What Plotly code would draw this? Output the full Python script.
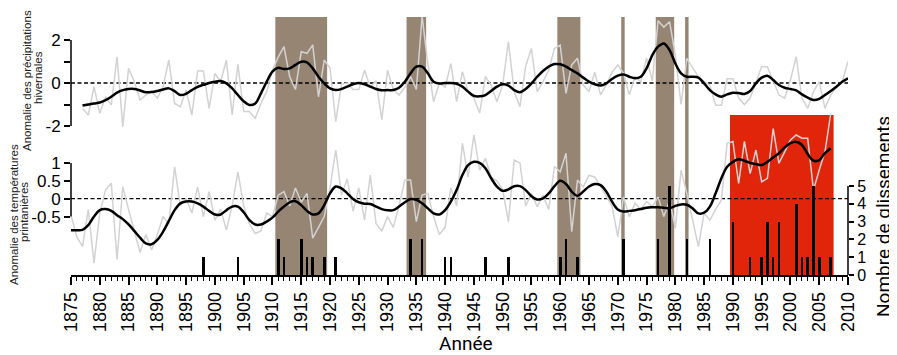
import plotly.graph_objects as go

# ---------------- data ----------------
years_precip = list(range(1877, 2011))
precip_annual = [
    -1.18, -1.49, -0.17, -1.41, -0.64, -1.02, 1.22, -2.03, 0.68, 0.06,
    -0.79, -0.56, -0.40, -0.71, -0.17, 1.07, -0.95, -1.10, -0.33, -1.49,
    0.56, 0.56, -1.18, 0.45, 0.06, 1.07, -1.49, 0.87, -1.33, -1.33,
    -1.64, -0.95, -0.40, 0.60, 1.20, 1.69, 0.29, -0.30, 1.46, 1.38,
    1.77, -0.64, 1.07, 0.70, -1.80, -0.05, 0.00, -0.30, -0.30, 0.60,
    -0.20, 0.10, -1.70, 0.60, -0.30, -0.56, -0.20, 0.30, -0.30, 3.10,
    0.90, -0.87, 0.00, -0.20, 0.90, -0.87, 0.53, -0.40, -0.70, -1.40,
    0.30, -0.10, -0.87, -0.10, 1.92, -0.40, -1.10, 0.80, 1.60, -0.40,
    0.06, 0.60, 1.60, 1.77, -0.48, 0.84, 1.15, -0.10, -0.40, 0.50,
    -0.55, -0.10, 0.50, 0.84, 0.45, -0.55, 0.30, 0.06, 1.15, 0.10,
    2.90, 2.60, 2.85, 1.30, -1.00, 1.15, 0.70, 0.30, 0.06, -0.10,
    -1.04, -1.04, 0.20, 0.20, -0.70, -1.00, -0.70, 0.06, 0.76, 0.76,
    0.06, -0.56, -0.70, 0.14, 1.22, -0.70, -1.18, -0.40, 0.06, -1.18,
    -0.56, -0.17, 0.06, 1.00,
]
precip_smooth = [
    -1.05, -1.00, -0.95, -0.91, -0.80, -0.64, -0.45, -0.33, -0.28, -0.28,
    -0.35, -0.43, -0.42, -0.37, -0.30, -0.25, -0.38, -0.56, -0.50, -0.33,
    -0.18, -0.09, 0.00, 0.06, 0.09, -0.02, -0.25, -0.56, -0.85, -1.02,
    -0.95, -0.48, 0.06, 0.53, 0.71, 0.65, 0.68, 0.84, 0.99, 0.96,
    0.68, 0.29, -0.02, -0.25, -0.33, -0.28, -0.17, -0.06, 0.00, -0.06,
    -0.17, -0.28, -0.34, -0.33, -0.33, -0.22, 0.06, 0.45, 0.76, 0.76,
    0.45, 0.06, -0.02, 0.00, 0.00, -0.04, -0.17, -0.40, -0.60, -0.62,
    -0.56, -0.37, -0.17, -0.06, -0.12, -0.33, -0.43, -0.28, -0.02, 0.29,
    0.56, 0.76, 0.88, 0.87, 0.76, 0.60, 0.45, 0.25, 0.06, -0.06,
    -0.12, -0.02, 0.19, 0.34, 0.40, 0.29, 0.22, 0.29, 0.68, 1.30,
    1.69, 1.84, 1.53, 0.91, 0.45, 0.29, 0.29, 0.25, -0.02, -0.33,
    -0.53, -0.64, -0.53, -0.45, -0.47, -0.51, -0.37, -0.02, 0.25, 0.34,
    0.14, -0.09, -0.22, -0.28, -0.34, -0.53, -0.68, -0.79, -0.74, -0.56,
    -0.37, -0.17, 0.06, 0.22,
]

years_temp = list(range(1875, 2008))
temp_annual = [
    -0.46, -1.06, -1.34, -0.30, -1.80, -0.40, 0.24, 0.43, -1.70, 0.33,
    -0.30, -0.87, -1.50, -1.00, -1.43, -1.00, -0.50, -0.70, 0.89, -0.20,
    0.00, -0.40, 0.33, -0.50, 0.20, -0.60, -0.30, -0.87, -0.20, 0.75,
    -0.20, -0.70, -0.97, -0.90, -0.40, -0.50, 0.10, 0.20, -0.20, 0.30,
    -0.10, 0.15, -1.10, -0.80, -0.50, 0.30, 1.36, 0.10, 0.55, -0.35,
    0.30, -0.60, 0.66, -0.70, -0.90, -0.50, -0.80, -0.20, 0.52, 0.52,
    -0.64, 0.10, 0.15, -0.50, -1.00, -0.80, 0.30, -0.20, 1.55, 0.60,
    1.78, 0.80, 1.13, 0.60, 0.50, 0.25, -0.64, 1.08, 1.00, -0.20,
    0.15, -0.22, 0.10, -0.30, 0.90, 0.75, 1.27, -0.92, 0.52, 0.33,
    0.66, 0.60, 0.33, 0.05, -0.20, -1.06, 0.05, -0.50, -0.13, -0.30,
    -0.08, -0.22, 0.05, -0.50, -0.04, -0.83, 0.80, 0.15, -0.60, -1.34,
    -0.40, -0.60, -0.30, -0.04, 1.55, 1.60, 0.43, 1.60, 0.70, 1.36,
    0.47, 0.57, 1.96, 0.99, 1.31, 1.64, 1.78, 1.69, 1.69, 0.24,
    0.80, 1.31, 2.38,
]
temp_smooth = [
    -0.88, -0.88, -0.87, -0.74, -0.50, -0.32, -0.29, -0.34, -0.46, -0.57,
    -0.72, -0.90, -1.09, -1.25, -1.27, -1.15, -0.92, -0.62, -0.32, -0.13,
    -0.08, -0.08, -0.13, -0.22, -0.34, -0.44, -0.44, -0.32, -0.22, -0.22,
    -0.38, -0.60, -0.72, -0.72, -0.64, -0.53, -0.36, -0.22, -0.10, -0.07,
    -0.18, -0.34, -0.44, -0.41, -0.18, 0.15, 0.34, 0.29, 0.15, -0.01,
    -0.10, -0.14, -0.15, -0.22, -0.29, -0.32, -0.32, -0.22, -0.10, -0.01,
    -0.03, -0.13, -0.27, -0.41, -0.44, -0.32, -0.08, 0.24, 0.66, 0.94,
    1.03, 1.00, 0.85, 0.57, 0.34, 0.22, 0.26, 0.35, 0.35, 0.24,
    0.07, -0.02, 0.01, 0.15, 0.35, 0.50, 0.41, 0.20, 0.08, 0.20,
    0.34, 0.41, 0.38, 0.20, -0.08, -0.30, -0.36, -0.34, -0.32, -0.29,
    -0.25, -0.24, -0.24, -0.25, -0.27, -0.20, -0.16, -0.17, -0.27, -0.41,
    -0.39, -0.22, 0.15, 0.57, 0.89, 1.03, 1.10, 1.06, 1.00, 0.97,
    0.94, 1.03, 1.15, 1.27, 1.43, 1.55, 1.59, 1.50, 1.25, 1.06,
    1.08, 1.27, 1.41,
]

slide_years = [1898, 1904, 1911, 1912, 1915, 1916, 1917, 1919, 1921, 1934,
               1936, 1940, 1941, 1947, 1951, 1960, 1961, 1963, 1971, 1977,
               1979, 1982, 1986, 1990, 1993, 1995, 1996, 1997, 1998, 2001,
               2002, 2003, 2004, 2005, 2007]
slide_counts = [1, 1, 2, 1, 2, 1, 1, 1, 1, 2,
                2, 1, 1, 1, 1, 1, 2, 1, 2, 2,
                5, 2, 2, 3, 1, 1, 3, 1, 3, 4,
                1, 1, 5, 1, 1]

wet_start = [1910.5, 1933.3, 1959.5, 1970.6, 1976.6, 1981.7]
wet_end = [1919.5, 1936.7, 1963.5, 1971.2, 1979.8, 1982.3]
warm_start = [1989.5]
warm_end = [2007.5]

x_major = list(range(1875, 2011, 5))
precip_ticks = [-2, -1, 0, 1, 2]
precip_labels = ["-2", "", "0", "", "2"]
temp_ticks = [-0.5, 0, 0.5, 1]
temp_labels = ["-0.5", "0", "0.5", "1"]
count_ticks = [0, 1, 2, 3, 4, 5]

# ---------------- layout geometry ----------------
# The page body adds an 8px offset, so the figure is sized to fit inside the window.
OFF = 8
WIN_W, WIN_H = 897, 355
W, H = WIN_W - OFF, WIN_H - OFF
PLOT_LEFT, PLOT_RIGHT, PLOT_TOP, PLOT_BOTTOM = 71, 848, 17, 275  # page pixels
L = PLOT_LEFT - OFF
T = PLOT_TOP - OFF
R = W - (PLOT_RIGHT - OFF)
B = H - (PLOT_BOTTOM - OFF)
PH = PLOT_BOTTOM - PLOT_TOP
PW = PLOT_RIGHT - PLOT_LEFT
XMIN, XMAX = 1875, 2010


def yr(zero_px, px_per_unit):
    top = (zero_px - PLOT_TOP) / px_per_unit
    bot = (zero_px - PLOT_BOTTOM) / px_per_unit
    return [bot, top]


precip_range = yr(83, 21.5)
temp_range = yr(198.7, 35.8)
count_range = yr(275, 17.8)

BROWN = "#978573"
RED = "#e1250a"
GREY = "#d2d2d2"
TICKFONT = dict(family="Liberation Sans, Arial, sans-serif", size=17, color="black")

fig = go.Figure()

fig.add_trace(go.Scatter(x=years_precip, y=precip_annual, mode="lines",
                         line=dict(color=GREY, width=1.5), yaxis="y", hoverinfo="skip"))
fig.add_trace(go.Scatter(x=years_precip, y=precip_smooth, mode="lines",
                         line=dict(color="black", width=2.5, shape="spline"), yaxis="y"))
fig.add_trace(go.Scatter(x=years_temp, y=temp_annual, mode="lines",
                         line=dict(color=GREY, width=1.5), yaxis="y2", hoverinfo="skip"))
fig.add_trace(go.Scatter(x=years_temp, y=temp_smooth, mode="lines",
                         line=dict(color="black", width=2.5, shape="spline"), yaxis="y2"))
fig.add_trace(go.Bar(x=slide_years, y=slide_counts, width=0.45,
                     marker=dict(color="black", line=dict(width=0)), yaxis="y3"))


def px2paper_x(px):
    return (px - PLOT_LEFT) / PW


def px2paper_y(py):
    return (PLOT_BOTTOM - py) / PH


shapes = []
for a, b in zip(wet_start, wet_end):
    shapes.append(dict(type="rect", xref="x", yref="paper", x0=a, x1=b, y0=0, y1=1,
                       fillcolor=BROWN, line=dict(width=0), layer="below"))
for a, b in zip(warm_start, warm_end):
    shapes.append(dict(type="rect", xref="x", yref="paper", x0=a, x1=b, y0=0,
                       y1=px2paper_y(115),
                       fillcolor=RED, line=dict(width=0), layer="below"))
for ref in ("y", "y2"):
    shapes.append(dict(type="line", xref="x", yref=ref, x0=XMIN, x1=XMAX, y0=0, y1=0,
                       line=dict(color="black", width=1.3, dash="4px,2.5px"), layer="below"))
shapes.append(dict(type="line", xref="paper", yref="y", x0=0, x1=0, y0=-2, y1=2,
                   line=dict(color="black", width=1.5)))
shapes.append(dict(type="line", xref="paper", yref="y2", x0=0, x1=0, y0=-0.5, y1=1,
                   line=dict(color="black", width=1.5)))
shapes.append(dict(type="line", xref="paper", yref="y3", x0=1, x1=1, y0=0, y1=5,
                   line=dict(color="black", width=1.5)))

LABFONT = dict(family="Liberation Sans, Arial, sans-serif", size=11.5, color="#222")
TITFONT = dict(family="Roboto, sans-serif", size=19, color="black")
annotations = [
    dict(text="Anomalie des précipitations", x=px2paper_x(27), y=px2paper_y(81),
         textangle=-90, font=LABFONT),
    dict(text="hivernales", x=px2paper_x(38), y=px2paper_y(78), textangle=-90, font=LABFONT),
    dict(text="Anomalie des températures", x=px2paper_x(14), y=px2paper_y(215),
         textangle=-90, font=LABFONT),
    dict(text="printanières", x=px2paper_x(24), y=px2paper_y(212), textangle=-90, font=LABFONT),
    dict(text="Année", x=px2paper_x(466), y=px2paper_y(343), font=TITFONT),
    dict(text="Nombre de glissements", x=px2paper_x(883), y=px2paper_y(217),
         textangle=-90, font=TITFONT),
]
for a in annotations:
    a.update(xref="paper", yref="paper", showarrow=False, xanchor="center", yanchor="middle")

fig.update_layout(
    width=W, height=H, margin=dict(l=L, r=R, t=T, b=B, pad=0, autoexpand=False),
    paper_bgcolor="white", plot_bgcolor="white", showlegend=False,
    bargap=0, shapes=shapes, annotations=annotations,
    xaxis=dict(range=[XMIN, XMAX], showgrid=False, zeroline=False, automargin=False,
               showline=True, linecolor="black", linewidth=1.5,
               tickmode="array", tickvals=x_major, ticks="outside", ticklen=8,
               tickwidth=1.5, tickcolor="black", tickangle=-90,
               tickfont=dict(family="Liberation Sans, Arial, sans-serif", size=18, color="black"),
               minor=dict(tick0=1875, dtick=1, ticks="outside", ticklen=4,
                          tickwidth=1, tickcolor="black", showgrid=False)),
    yaxis=dict(range=precip_range, showgrid=False, zeroline=False, showline=False,
               automargin=False,
               tickmode="array", tickvals=precip_ticks, ticktext=precip_labels,
               ticks="outside", ticklen=6, tickwidth=1.5, tickcolor="black",
               tickfont=TICKFONT),
    yaxis2=dict(range=temp_range, overlaying="y", side="left", anchor="x",
                showgrid=False, zeroline=False, showline=False, automargin=False,
                tickmode="array", tickvals=temp_ticks, ticktext=temp_labels,
                ticks="outside", ticklen=6, tickwidth=1.5, tickcolor="black",
                tickfont=TICKFONT),
    yaxis3=dict(range=count_range, overlaying="y", side="right", anchor="x",
                showgrid=False, zeroline=False, showline=False, automargin=False,
                tickmode="array", tickvals=count_ticks,
                ticks="outside", ticklen=5, tickwidth=1.5, tickcolor="black",
                tickfont=dict(family="Liberation Sans, Arial, sans-serif", size=16, color="black")),
)

fig.write_html("out.html")
